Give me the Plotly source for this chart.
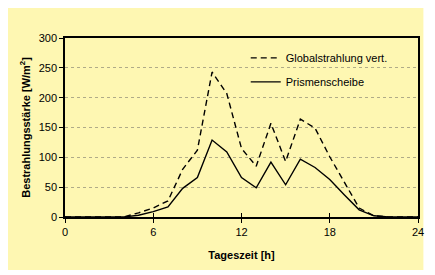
import plotly.graph_objects as go

hours = list(range(0, 25))
global_vert = [0, 0, 0, 0, 0, 7, 15, 27, 80, 112, 243, 207, 115, 85, 157, 93, 164, 149, 101, 58, 15, 2, 0, 0, 0]
prismen = [0, 0, 0, 0, 0, 3, 9, 17, 48, 66, 129, 109, 66, 49, 92, 54, 97, 83, 63, 37, 12, 2, 0, 0, 0]
x_ticks = [0, 6, 12, 18, 24]
y_ticks = [0, 50, 100, 150, 200, 250, 300]

FONT = "Liberation Sans, Arial, sans-serif"
YELLOW = "#FEF7B2"

fig = go.Figure()
fig.add_trace(go.Scatter(x=hours, y=global_vert, mode="lines", name="Globalstrahlung vert.",
                         legendgroup="a",
                         line=dict(color="black", width=1.4, dash="6px,4px")))
fig.add_trace(go.Scatter(x=hours, y=prismen, mode="lines", name="Prismenscheibe",
                         legendgroup="b",
                         line=dict(color="black", width=1.4)))
# overlay axis for inward tick marks
fig.add_trace(go.Scatter(x=[0], y=[0], xaxis="x2", mode="markers", marker=dict(opacity=0),
                         showlegend=False, hoverinfo="skip"))

fig.add_shape(type="rect", xref="paper", yref="paper", x0=-0.164, x1=1.0153, y0=-0.296, y1=1.173,
              fillcolor=YELLOW, line=dict(width=0), layer="below")

fig.update_layout(
    width=427, height=267,
    margin=dict(l=57, r=10.5, t=30, b=58),
    paper_bgcolor="white", plot_bgcolor="rgba(0,0,0,0)",
    font=dict(family=FONT, size=11, color="black"),
    showlegend=True,
    legend=dict(x=0.512, y=0.97, xanchor="left", yanchor="top", bgcolor="rgba(0,0,0,0)",
                font=dict(size=11), traceorder="grouped", tracegroupgap=5, itemwidth=30),
    xaxis=dict(range=[0, 24], tickvals=x_ticks, ticks="outside", ticklen=4, tickwidth=1.2,
               tickcolor="black", showline=True, linecolor="black", linewidth=1.5, mirror=True,
               showgrid=False, zeroline=False,
               title=dict(text="<b>Tageszeit [h]</b>", font=dict(size=11), standoff=14)),
    xaxis2=dict(range=[0, 24], overlaying="x", tickvals=x_ticks[1:-1], ticks="inside", ticklen=4,
                tickwidth=1.2, tickcolor="black", showticklabels=False, showgrid=False,
                zeroline=False, side="bottom", anchor="y"),
    yaxis=dict(range=[0, 300], tickvals=y_ticks, ticks="outside", ticklen=4, tickwidth=1.2,
               tickcolor="black", showline=True, linecolor="black", linewidth=1.5, mirror=True,
               showgrid=True, gridcolor="#b0ab88", gridwidth=1, griddash="dot", zeroline=False,
               title=dict(text="<b>Bestrahlungsstärke [W/m<sup>2</sup>]</b>", font=dict(size=11),
                          standoff=6)),
)

fig.write_html("out.html")
